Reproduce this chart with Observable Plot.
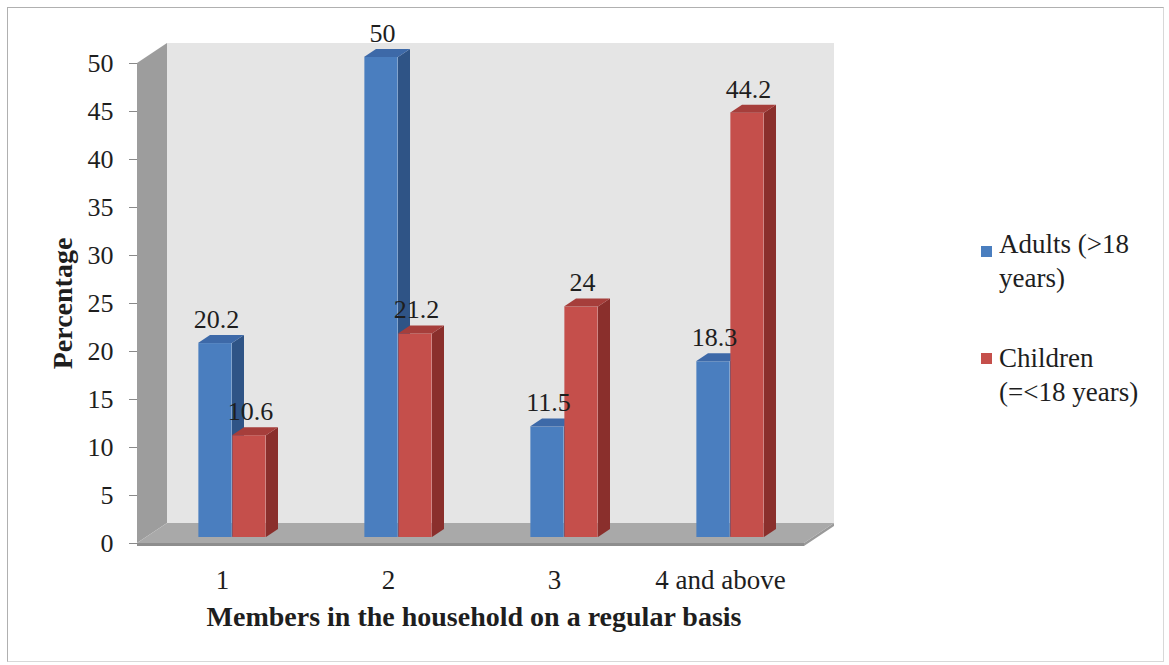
<!DOCTYPE html>
<html>
<head>
<meta charset="utf-8">
<script src="https://cdn.jsdelivr.net/npm/d3@7"></script>
<script src="https://cdn.jsdelivr.net/npm/@observablehq/plot@0.6"></script>
<style>
  html, body { margin: 0; padding: 0; background: #fff; }
  #chart { position: relative; width: 1169px; height: 665px; overflow: hidden;
           font-family: 'Liberation Serif', 'Times New Roman', serif; color: #1e1e1e; }
  #chart svg { display: block; }
  #chart svg text { font-family: 'Liberation Serif', 'Times New Roman', serif; }
  .chart-border { position: absolute; left: 7px; top: 7px; width: 1157px; height: 655px;
                  box-sizing: border-box; border: 1px solid #b0b0b0;
                  border-right-color: #d8d8d8; border-bottom-color: #d8d8d8; pointer-events: none; }
  .legend { position: absolute; left: 0; top: 0; font-size: 27px; line-height: 34px;
            font-family: 'Liberation Serif', 'Times New Roman', serif; }
  .legend .swatch { position: absolute; width: 11px; height: 11px; }
  .legend .line { position: absolute; white-space: nowrap; }
  g[aria-label="y-axis tick"] path, g[aria-label="y-axis"] line { stroke: #8a8a8a; }
</style>
</head>
<body>
<div id="chart"></div>
<script>
// Household composition: share of respondents by number of members
const categories = ["1", "2", "3", "4 and above"];
const adults = [20.2, 50, 11.5, 18.3];
const children = [10.6, 21.2, 24, 44.2];
const seriesNames = ["Adults (>18 years)", "Children (=<18 years)"];
const legendLines = [["Adults (>18", "years)"], ["Children", "(=<18 years)"]];
const yTicks = [0, 5, 10, 15, 20, 25, 30, 35, 40, 45, 50];
const xTitle = "Members in the household on a regular basis";
const yTitle = "Percentage";

// Styling
const palette = [
  {front: "#4a7ebf", side: "#2f5486", top: "#3d69a8"},
  {front: "#c54f4b", side: "#8a2f2c", top: "#a63e3b"}
];
const FONT = "'Liberation Serif', 'Times New Roman', serif";
const INK = "#1e1e1e";
const W = 1169, H = 665;
const M = {top: 63, right: 365, bottom: 122, left: 137};
const WALL = {dx: 30, dy: -20};          // depth of the back wall / floor
const BAR = {width: 34, dx: 12, dy: -8,  // bar front width and its depth
             split: 10, lift: -6};        // bars stand mid-floor, right of the band centre

const rows = categories.flatMap((category, i) => [
  {category, series: seriesNames[0], s: 0, value: adults[i]},
  {category, series: seriesNames[1], s: 1, value: children[i]}
]);

const bandwidth = (W - M.left - M.right) / categories.length;
// front-face left edge, relative to the band centre
const frontLeft = s => (s === 0 ? BAR.split - BAR.width : BAR.split);

const pts = p => p.map(q => q.join(",")).join(" ");

// Back wall, side wall and floor of the 3-D box
function walls(index, scales, values, dims) {
  const g = d3.create("svg:g").attr("aria-label", "walls");
  const x0 = dims.marginLeft, x1 = dims.width - dims.marginRight;
  const y0 = scales.y(0), y1 = scales.y(d3.max(yTicks));
  const {dx, dy} = WALL;
  g.append("rect").attr("x", x0 + dx).attr("y", y1 + dy)
    .attr("width", x1 - x0).attr("height", y0 - y1).attr("fill", "#e5e5e5");
  g.append("polygon").attr("points", pts([[x0, y1], [x0 + dx, y1 + dy], [x0 + dx, y0 + dy], [x0, y0]]))
    .attr("fill", "#9d9d9d");
  g.append("polygon").attr("points", pts([[x0, y0], [x1, y0], [x1 + dx, y0 + dy], [x0 + dx, y0 + dy]]))
    .attr("fill", "#a9a9a9");
  g.append("polygon").attr("points", pts([[x0, y0], [x1, y0], [x1, y0 + 3], [x0, y0 + 3]]))
    .attr("fill", "#8e8e8e");
  g.append("polygon").attr("points", pts([[x1, y0], [x1 + dx, y0 + dy], [x1 + dx, y0 + dy + 3], [x1, y0 + 3]]))
    .attr("fill", "#9a9a9a");
  return g.node();
}

// Side and top faces of each bar of one series
function barFaces(s) {
  return (index, scales, values, dims) => {
    const g = d3.create("svg:g").attr("aria-label", "bar faces " + seriesNames[s]);
    const bw = scales.x.bandwidth ? scales.x.bandwidth() : bandwidth;
    for (const r of rows.filter(d => d.s === s)) {
      const xl = scales.x(r.category) + bw / 2 + frontLeft(s);
      const xr = xl + BAR.width;
      const yt = scales.y(r.value) + BAR.lift;
      const yb = scales.y(0) + BAR.lift;
      g.append("polygon").attr("fill", palette[s].side)
        .attr("points", pts([[xr, yt], [xr + BAR.dx, yt + BAR.dy], [xr + BAR.dx, yb + BAR.dy], [xr, yb]]));
      g.append("polygon").attr("fill", palette[s].top)
        .attr("points", pts([[xl, yt], [xr, yt], [xr + BAR.dx, yt + BAR.dy], [xl + BAR.dx, yt + BAR.dy]]));
    }
    return g.node();
  };
}

function seriesMarks(s) {
  const data = rows.filter(d => d.s === s);
  const left = bandwidth / 2 + frontLeft(s);
  return [
    Plot.barY(data, {
      x: "category", y: "value", fill: palette[s].front,
      insetLeft: left, insetRight: bandwidth - left - BAR.width, dy: BAR.lift
    }),
    barFaces(s)
  ];
}

const labelMarks = [0, 1].map(s => Plot.text(rows.filter(d => d.s === s), {
  x: "category", y: "value", text: d => String(d.value),
  dx: frontLeft(s) + BAR.width / 2 + 1, dy: BAR.lift - 24,
  fontSize: 26, fontFamily: FONT, fill: INK, lineAnchor: "middle"
}));

const plot = Plot.plot({
  width: W, height: H,
  marginTop: M.top, marginRight: M.right, marginBottom: M.bottom, marginLeft: M.left,
  style: {fontFamily: FONT, fontSize: "26px", color: INK, background: "transparent", overflow: "visible"},
  x: {type: "band", domain: categories, padding: 0, tickSize: 0, tickPadding: 26, label: null},
  y: {domain: [0, d3.max(yTicks)], ticks: yTicks, tickSize: 8, tickPadding: 16, label: null},
  marks: [
    walls,
    ...seriesMarks(0),
    ...seriesMarks(1),
    ...labelMarks,
    Plot.text([yTitle], {frameAnchor: "left", rotate: -90, dx: -74, fontSize: 28, fontFamily: FONT,
                         fontWeight: "bold", fill: INK, textAnchor: "middle", lineAnchor: "middle"}),
    Plot.text([xTitle], {frameAnchor: "bottom", dx: 3, dy: 74, fontSize: 28, fontFamily: FONT,
                         fontWeight: "bold", fill: INK, textAnchor: "middle", lineAnchor: "middle"})
  ]
});

const chart = document.getElementById("chart");
chart.appendChild(plot);

// category tick labels are a touch larger than the value ticks
plot.querySelectorAll('g[aria-label="x-axis tick label"] text, g[aria-label="x-axis"] text')
  .forEach(t => t.setAttribute("font-size", 27));

// Legend to the right of the box
const legend = document.createElement("div");
legend.className = "legend";
const legendLayout = [{swatchTop: 246, lineTop: 227}, {swatchTop: 353, lineTop: 341}];
legendLines.forEach((lines, s) => {
  const sw = document.createElement("div");
  sw.className = "swatch";
  sw.style.left = "981px";
  sw.style.top = legendLayout[s].swatchTop + "px";
  sw.style.background = palette[s].front;
  legend.appendChild(sw);
  lines.forEach((t, k) => {
    const ln = document.createElement("div");
    ln.className = "line";
    ln.style.left = "999px";
    ln.style.top = (legendLayout[s].lineTop + k * 34) + "px";
    ln.textContent = t;
    legend.appendChild(ln);
  });
});
chart.appendChild(legend);

const border = document.createElement("div");
border.className = "chart-border";
chart.appendChild(border);
</script>
</body>
</html>
